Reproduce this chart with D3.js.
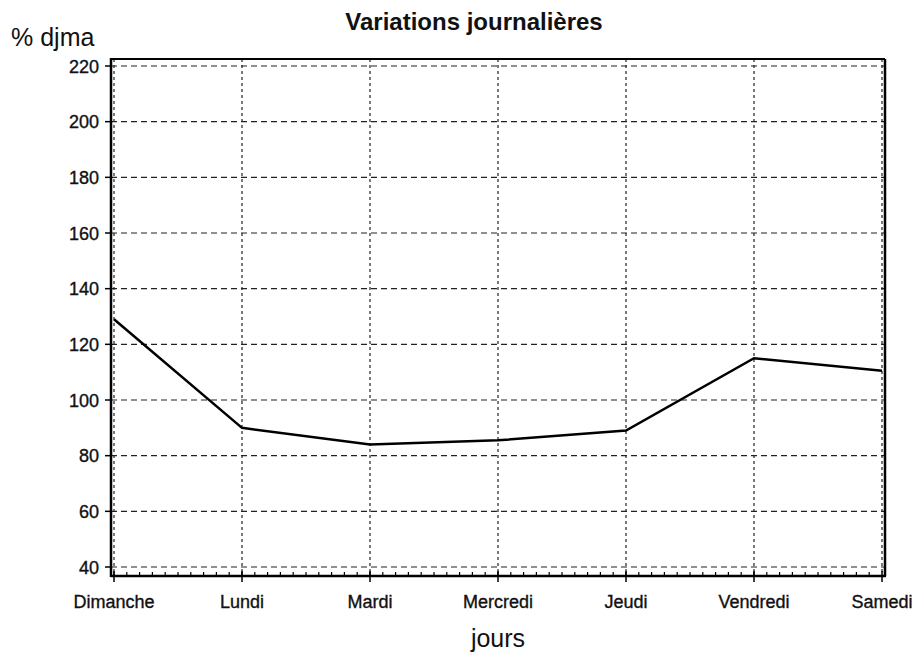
<!DOCTYPE html>
<html>
<head>
<meta charset="utf-8">
<script src="https://cdn.jsdelivr.net/npm/d3@7"></script>
<style>
  body { margin: 0; background: #fff; }
  text { font-family: "Liberation Sans", Arial, sans-serif; fill: #111; }
</style>
</head>
<body>
<div id="chart"></div>
<script>
var days = ["Dimanche", "Lundi", "Mardi", "Mercredi", "Jeudi", "Vendredi", "Samedi"];
var values = [129, 90, 84, 85.5, 89, 115, 110.5];
var yTicks = [40, 60, 80, 100, 120, 140, 160, 180, 200, 220];

var width = 916, height = 655;
var svg = d3.select("#chart").append("svg")
  .attr("width", width)
  .attr("height", height);

var x = d3.scalePoint().domain(days).range([114, 882]);
var xi = d3.scaleLinear().domain([0, days.length - 1]).range([114, 882]);
var y = d3.scaleLinear().domain([40, 220]).range([567, 66]);

var frame = {left: 111, right: 885, top: 59, bottom: 576};

// grid
svg.selectAll(".hgrid")
  .data(yTicks)
  .enter()
  .append("line")
  .attr("x1", frame.left).attr("x2", frame.right)
  .attr("y1", function(d){ return y(d); })
  .attr("y2", function(d){ return y(d); })
  .attr("stroke", "#222")
  .attr("stroke-width", 1.2)
  .attr("stroke-dasharray", "6,4");

svg.selectAll(".vgrid")
  .data(days)
  .enter()
  .append("line")
  .attr("x1", function(d){ return x(d); })
  .attr("x2", function(d){ return x(d); })
  .attr("y1", frame.top).attr("y2", frame.bottom)
  .attr("stroke", "#222")
  .attr("stroke-width", 1.2)
  .attr("stroke-dasharray", "3,3");

// frame
svg.append("line")
  .attr("x1", frame.left).attr("x2", frame.right)
  .attr("y1", frame.top).attr("y2", frame.top)
  .attr("stroke", "#000").attr("stroke-width", 2);
svg.append("line")
  .attr("x1", frame.right).attr("x2", frame.right)
  .attr("y1", frame.top).attr("y2", frame.bottom)
  .attr("stroke", "#000").attr("stroke-width", 2.5);
svg.append("line")
  .attr("x1", frame.left).attr("x2", frame.left)
  .attr("y1", frame.top - 1).attr("y2", frame.bottom + 1)
  .attr("stroke", "#000").attr("stroke-width", 2.5);
svg.append("line")
  .attr("x1", frame.left).attr("x2", frame.right + 1)
  .attr("y1", frame.bottom).attr("y2", frame.bottom)
  .attr("stroke", "#000").attr("stroke-width", 2.5);

// y ticks
svg.selectAll(".ytick")
  .data(yTicks)
  .enter()
  .append("line")
  .attr("x1", frame.left - 6).attr("x2", frame.left)
  .attr("y1", function(d){ return y(d); })
  .attr("y2", function(d){ return y(d); })
  .attr("stroke", "#000").attr("stroke-width", 1.5);

svg.selectAll(".ylabel")
  .data(yTicks)
  .enter()
  .append("text")
  .attr("x", frame.left - 12)
  .attr("y", function(d){ return y(d) + 6.5; })
  .attr("text-anchor", "end")
  .style("font-size", "18px")
  .attr("stroke", "#111").attr("stroke-width", 0.35)
  .text(function(d){ return d; });

// x minor ticks
svg.selectAll(".xminor")
  .data(d3.range(0, 60))
  .enter()
  .append("line")
  .attr("x1", function(d){ return xi(d / 10); })
  .attr("x2", function(d){ return xi(d / 10); })
  .attr("y1", frame.bottom - 4).attr("y2", frame.bottom)
  .attr("stroke", "#000").attr("stroke-width", 1.2);

// x major ticks
svg.selectAll(".xtick")
  .data(days)
  .enter()
  .append("line")
  .attr("x1", function(d){ return x(d); })
  .attr("x2", function(d){ return x(d); })
  .attr("y1", frame.bottom - 5).attr("y2", frame.bottom + 6)
  .attr("stroke", "#000").attr("stroke-width", 1.5);

svg.selectAll(".xlabel")
  .data(days)
  .enter()
  .append("text")
  .attr("x", function(d){ return x(d); })
  .attr("y", 608)
  .attr("text-anchor", "middle")
  .style("font-size", "18px")
  .attr("stroke", "#111").attr("stroke-width", 0.35)
  .text(function(d){ return d; });

// line
var line = d3.line()
  .x(function(d, i){ return x(days[i]); })
  .y(function(d){ return y(d); });

svg.append("path")
  .attr("d", line(values))
  .attr("fill", "none")
  .attr("stroke", "#000")
  .attr("stroke-width", 2.5);

// titles
svg.append("text")
  .attr("x", 474)
  .attr("y", 30)
  .attr("text-anchor", "middle")
  .style("font-size", "24px")
  .style("font-weight", "bold")
  .text("Variations journalières");

svg.append("text")
  .attr("x", 11)
  .attr("y", 46)
  .style("font-size", "25px")
  .text("% djma");

svg.append("text")
  .attr("x", 498)
  .attr("y", 647)
  .attr("text-anchor", "middle")
  .style("font-size", "25px")
  .text("jours");
</script>
</body>
</html>
